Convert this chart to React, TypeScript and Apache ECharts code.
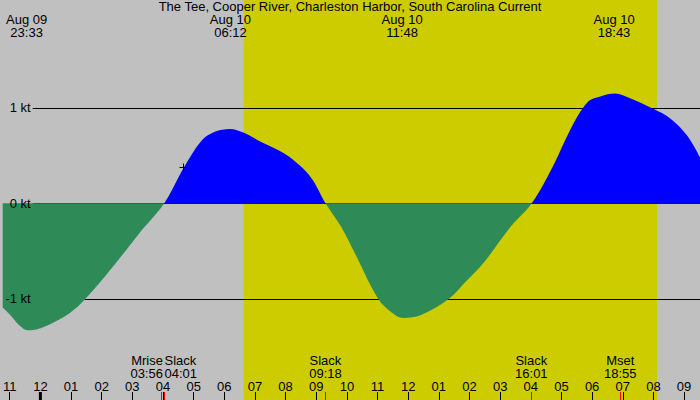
import { useEffect, useRef } from "react";
import * as echarts from "echarts";

const FONT = "'Liberation Sans', Arial, sans-serif";
const FONT_SIZE = 13;

const stationTitle = "The Tee, Cooper River, Charleston Harbor, South Carolina Current";

// hours since Aug 10 00:00 local
const viewStart = -1.23;
const viewEnd = 21.52;
const levelLineStart = -0.25;

const hourTicks = [-1, 0, 1, 2, 3, 4, 5, 6, 7, 8, 9, 10, 11, 12, 13, 14, 15, 16, 17, 18, 19, 20, 21];
const dayStarts = [0];
const knotLevels = [-1, 0, 1];

const currentHours = [
  -1.23, -1.07, -0.9, -0.68, -0.42, 0.07, 0.95, 1.47, 2.35, 3.21, 4.04,
  4.69, 5.27, 5.69, 6.18, 6.64, 7.22, 7.97, 8.52, 8.85, 9.07, 9.3,
  9.82, 10.24, 11.02, 11.45, 11.84, 12.42, 13.33, 13.88, 14.48, 15.29, 16.03,
  16.74, 17.3, 17.85, 18.27, 18.76, 19.24, 19.99, 20.55, 21.1, 21.52
];
const currentKnots = [
  -1.09, -1.14, -1.2, -1.28, -1.33, -1.3, -1.15, -1.0, -0.67, -0.32, 0,
  0.38, 0.66, 0.75, 0.78, 0.74, 0.64, 0.52, 0.38, 0.26, 0.14, 0,
  -0.25, -0.51, -1.0, -1.14, -1.2, -1.17, -1.0, -0.82, -0.615, -0.265, 0,
  0.4, 0.78, 1.06, 1.12, 1.15, 1.1, 0.99, 0.89, 0.71, 0.48
];

const maxDates = ["Aug 09", "Aug 10", "Aug 10", "Aug 10"];
const maxTimes = ["23:33", "06:12", "11:48", "18:43"];

const eventNames = ["Mrise", "Slack", "Slack", "Slack", "Mset"];
const eventTimes = ["03:56", "04:01", "09:18", "16:01", "18:55"];
const eventAligns = ["right", "left", "center", "center", "center"];

const daylight = ["06:38", "20:07"];
const nowMark = [4.66, 0.38];

function toHours(time: string, date = "Aug 10"): number {
  const [h, m] = time.split(":").map(Number);
  const offset = date === "Aug 09" ? -24 : 0;
  return offset + h + m / 60;
}

function hourLabel(v: number): string {
  const h = ((Math.round(v) % 12) + 12) % 12 || 12;
  return String(h).padStart(2, "0");
}

export default function App() {
  const chartRef = useRef<HTMLDivElement | null>(null);

  useEffect(() => {
    document.body.style.margin = "0";
    if (!chartRef.current) {
      return;
    }
    const chart = echarts.init(chartRef.current, null, { renderer: "svg" });

    const textStyle = { fontSize: FONT_SIZE, fontFamily: FONT, fill: "#000" };

    chart.setOption({
      animation: false,
      backgroundColor: "#c0c0c0",
      title: {
        text: stationTitle,
        left: "center",
        top: 0,
        padding: 0,
        textStyle: { fontSize: FONT_SIZE, fontWeight: "normal", color: "#000", fontFamily: FONT }
      },
      grid: { left: 0, right: 0, top: 0, bottom: 0 },
      xAxis: {
        type: "value",
        min: viewStart,
        max: viewEnd,
        z: 10,
        axisLine: { show: false, onZero: false },
        splitLine: { show: false },
        axisTick: {
          show: true,
          inside: true,
          length: 8,
          customValues: hourTicks,
          lineStyle: { color: "#000", width: 1 }
        },
        axisLabel: {
          inside: true,
          margin: 7,
          customValues: hourTicks,
          color: "#000",
          fontSize: FONT_SIZE,
          fontFamily: FONT,
          formatter: (v: number) => hourLabel(v)
        }
      },
      yAxis: {
        type: "value",
        min: -2.06,
        max: 2.13,
        z: 10,
        axisLine: { show: false },
        axisTick: { show: false },
        splitLine: { show: false },
        axisLabel: {
          inside: true,
          align: "right",
          margin: 28,
          customValues: knotLevels,
          color: "#000",
          fontSize: FONT_SIZE,
          fontFamily: FONT,
          formatter: "{value} kt"
        }
      },
      visualMap: {
        type: "piecewise",
        show: false,
        seriesIndex: 0,
        dimension: 1,
        pieces: [
          { gt: 0, lte: 3, color: "#0000ff" },
          { gt: -3, lte: 0, color: "#2e8b57" }
        ]
      },
      series: [
        {
          name: "Current",
          type: "line",
          z: 3,
          smooth: 0.35,
          symbol: "none",
          data: currentHours.map((h, i) => [h, currentKnots[i]]),
          lineStyle: { width: 0 },
          areaStyle: { opacity: 1 },
          markArea: {
            silent: true,
            z: 1,
            itemStyle: { color: "#cccc00" },
            data: [[{ xAxis: toHours(daylight[0]) }, { xAxis: toHours(daylight[1]) }]]
          },
          markLine: {
            silent: true,
            z: 2,
            symbol: "none",
            label: { show: false },
            lineStyle: { color: "#000", width: 1, type: "solid" },
            data: knotLevels.map((k) => [{ coord: [levelLineStart, k] }, { coord: [viewEnd, k] }])
          }
        },
        {
          name: "Maxima",
          type: "custom",
          z: 12,
          silent: true,
          data: maxTimes.map((t, i) => [toHours(t, maxDates[i]), i]),
          renderItem: (params: any, api: any) => {
            const i = api.value(1);
            const x = api.coord([api.value(0), 0])[0];
            return {
              type: "text",
              x,
              y: 13,
              style: {
                ...textStyle,
                text: `${maxDates[i]}\n${maxTimes[i]}`,
                align: "center",
                verticalAlign: "top",
                lineHeight: 13
              }
            };
          }
        },
        {
          name: "Events",
          type: "custom",
          z: 12,
          silent: true,
          data: eventTimes.map((t, i) => [toHours(t), i]),
          renderItem: (params: any, api: any) => {
            const i = api.value(1);
            const x = api.coord([api.value(0), 0])[0];
            const h = api.getHeight();
            const align = eventAligns[i];
            const tx = align === "right" ? x + 2 : align === "left" ? x + 1 : x;
            const lx = Math.round(x) + 0.5;
            return {
              type: "group",
              children: [
                {
                  type: "text",
                  x: tx,
                  y: h - 46.5,
                  style: {
                    ...textStyle,
                    text: `${eventNames[i]}\n${eventTimes[i]}`,
                    align,
                    verticalAlign: "top",
                    lineHeight: 13
                  }
                },
                {
                  type: "line",
                  shape: { x1: lx, y1: h - 8, x2: lx, y2: h },
                  style: { stroke: "#ff0000", lineWidth: 1 }
                }
              ]
            };
          }
        },
        {
          name: "Midnight",
          type: "custom",
          z: 12,
          silent: true,
          data: dayStarts.map((d) => [d, 0]),
          renderItem: (params: any, api: any) => {
            const x = api.coord([api.value(0), 0])[0];
            const h = api.getHeight();
            return {
              type: "rect",
              shape: { x: x - 1.5, y: h - 8, width: 3, height: 8 },
              style: { fill: "#000" }
            };
          }
        },
        {
          name: "Now",
          type: "custom",
          z: 12,
          silent: true,
          data: [nowMark],
          renderItem: (params: any, api: any) => {
            const [x, y] = api.coord([api.value(0), api.value(1)]);
            const cx = Math.round(x) + 0.5;
            const cy = Math.round(y) + 0.5;
            return {
              type: "group",
              children: [
                { type: "line", shape: { x1: cx - 4, y1: cy, x2: cx + 4, y2: cy }, style: { stroke: "#000", lineWidth: 1 } },
                { type: "line", shape: { x1: cx, y1: cy - 4, x2: cx, y2: cy + 4 }, style: { stroke: "#000", lineWidth: 1 } }
              ]
            };
          }
        }
      ]
    });

    return () => {
      chart.dispose();
    };
  }, []);

  return <div ref={chartRef} style={{ width: 700, height: 400 }} />;
}
